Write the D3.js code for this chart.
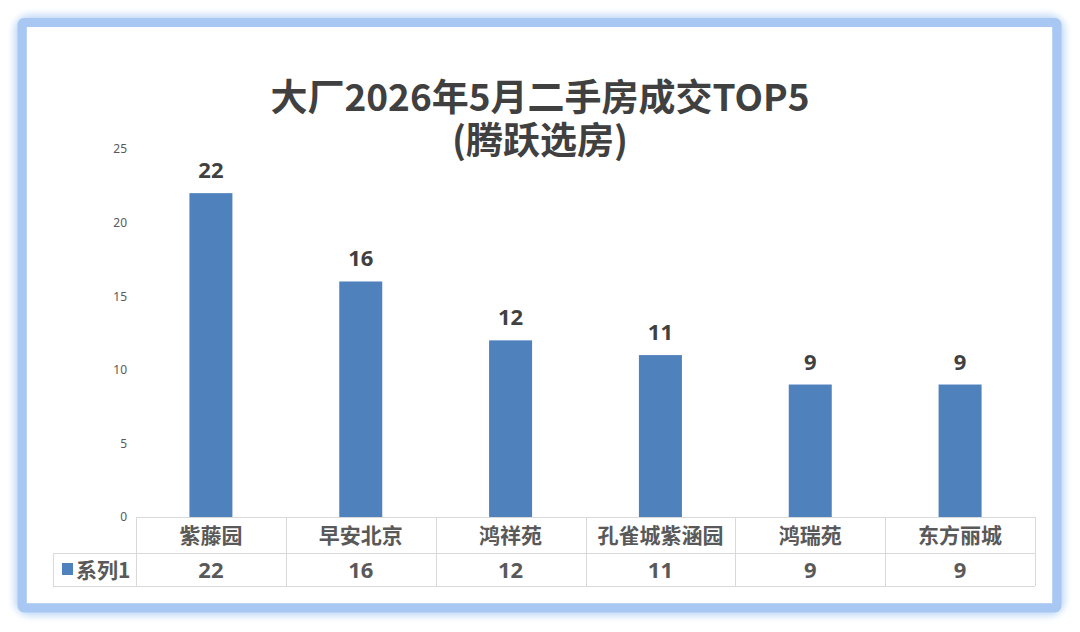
<!DOCTYPE html>
<html><head><meta charset="utf-8">
<script src="https://cdn.jsdelivr.net/npm/d3@7/dist/d3.min.js"></script>
<style>
html,body{margin:0;padding:0;background:#fff;}
svg{display:block;font-family:"Noto Sans CJK SC","Noto Sans",sans-serif;}
</style></head>
<body>
<svg id="c" width="1080" height="632"></svg>
<script>
const categories = ["紫藤园","早安北京","鸿祥苑","孔雀城紫涵园","鸿瑞苑","东方丽城"];
const values = [22,16,12,11,9,9];
const yTicks = [0,5,10,15,20,25];
const seriesName = "系列1";
const titleLines = ["大厂2026年5月二手房成交TOP5","(腾跃选房)"];

const svg = d3.select("#c");
const defs = svg.append("defs");
const f = defs.append("filter").attr("id","glow").attr("x","-10%").attr("y","-10%").attr("width","120%").attr("height","120%");
f.append("feGaussianBlur").attr("stdDeviation",3.5);

// frame glow + border
svg.append("rect").attr("x",22).attr("y",22.5).attr("width",1035).attr("height",585.5)
  .attr("rx",8).attr("fill","none").attr("stroke","#c2daf8").attr("stroke-width",16).attr("filter","url(#glow)");
svg.append("rect").attr("x",22).attr("y",22.5).attr("width",1035).attr("height",585.5)
  .attr("rx",2).attr("fill","none").attr("stroke","#a8c8f3").attr("stroke-width",9);
svg.append("rect").attr("x",27).attr("y",27).attr("width",1025).attr("height",576).attr("fill","#fff");

// title (one text element, two lines)
const title = svg.append("text").attr("text-anchor","middle")
  .attr("font-size",37).attr("font-weight",700).attr("fill","#404040");
title.selectAll("tspan").data(titleLines).join("tspan")
  .attr("x",540).attr("y",(d,i)=>111+i*43).text(d=>d);

const x0 = 136, x1 = 1035;
const x = d3.scaleBand().domain(categories).range([x0,x1]).paddingInner(0).paddingOuter(0);
const y = d3.scaleLinear().domain([0,25]).range([517,149]);

// y axis labels
const ya = svg.append("g").attr("transform","translate(127,0)")
  .call(d3.axisLeft(y).tickValues(yTicks).tickSize(0).tickPadding(0));
ya.select(".domain").remove();
ya.selectAll("text").attr("font-size",12).attr("fill","#595959").attr("font-family","'Noto Sans','DejaVu Sans',sans-serif");

// bars
const bw = 43;
svg.append("g").selectAll("rect").data(values).join("rect")
  .attr("x",(d,i)=>x(categories[i])+x.bandwidth()/2-bw/2)
  .attr("y",d=>y(d)).attr("width",bw).attr("height",d=>y(0)-y(d))
  .attr("fill","#4f81bd");

// data labels
svg.append("g").selectAll("text").data(values).join("text")
  .attr("x",(d,i)=>x(categories[i])+x.bandwidth()/2).attr("y",d=>y(d)-15)
  .attr("text-anchor","middle").attr("font-size",22).attr("font-weight",700)
  .attr("fill","#404040").attr("font-family","'Noto Sans','Open Sans',sans-serif").text(d=>d);

// table
const rowTop = 517, rowMid = 553, rowBot = 586, legX0 = 53;
const tg = svg.append("g").attr("stroke","#d9d9d9").attr("stroke-width",1).attr("fill","none");
tg.append("line").attr("x1",x0).attr("x2",x1).attr("y1",rowTop+0.5).attr("y2",rowTop+0.5);
tg.append("line").attr("x1",legX0).attr("x2",x1).attr("y1",rowMid+0.5).attr("y2",rowMid+0.5);
tg.append("line").attr("x1",legX0).attr("x2",x1).attr("y1",rowBot+0.5).attr("y2",rowBot+0.5);
tg.append("line").attr("x1",legX0+0.5).attr("x2",legX0+0.5).attr("y1",rowMid).attr("y2",rowBot);
const bounds = categories.map(c=>x(c)).concat([x1]);
tg.selectAll("line.v").data(bounds).join("line").attr("class","v")
  .attr("x1",d=>Math.round(d)+0.5).attr("x2",d=>Math.round(d)+0.5).attr("y1",rowTop).attr("y2",rowBot);

svg.append("g").selectAll("text").data(categories).join("text")
  .attr("x",d=>x(d)+x.bandwidth()/2).attr("y",rowTop+26).attr("text-anchor","middle")
  .attr("font-size",21).attr("font-weight",700).attr("fill","#595959").text(d=>d);
svg.append("g").selectAll("text").data(values).join("text")
  .attr("x",(d,i)=>x(categories[i])+x.bandwidth()/2).attr("y",rowMid+25).attr("text-anchor","middle")
  .attr("font-size",22).attr("font-weight",700).attr("fill","#595959")
  .attr("font-family","'Noto Sans','Open Sans',sans-serif").text(d=>d);

// legend cell
svg.append("rect").attr("x",62).attr("y",563).attr("width",11).attr("height",12).attr("fill","#4f81bd");
svg.append("text").attr("x",76).attr("y",rowMid+25).attr("font-size",21).attr("font-weight",700)
  .attr("fill","#595959").text(seriesName);
</script>
</body></html>
